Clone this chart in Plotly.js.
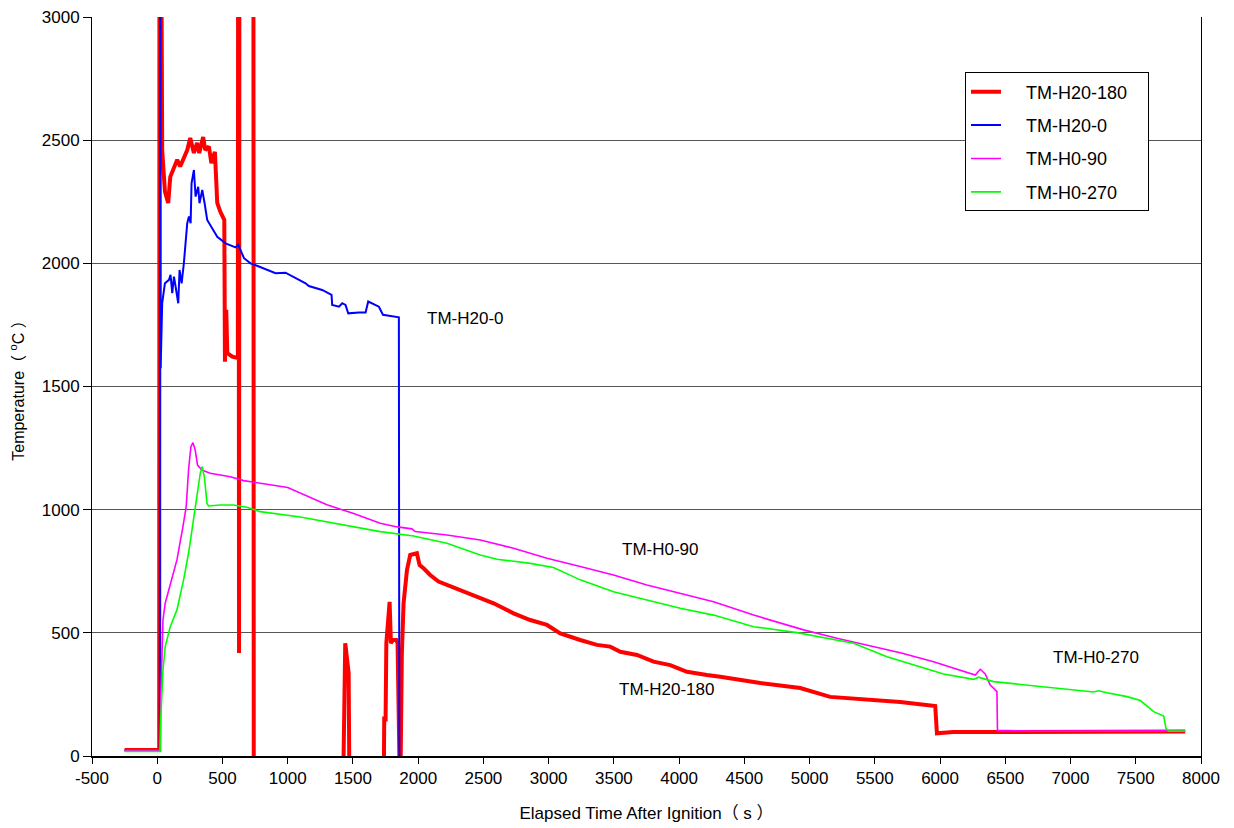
<!DOCTYPE html>
<html>
<head>
<meta charset="utf-8">
<script src="https://cdn.plot.ly/plotly-3.0.1.min.js"></script>
<style>html,body{margin:0;padding:0;background:#fff;}#chart{width:1234px;height:828px;}</style>
</head>
<body>
<div id="chart"></div>
<script>
// Values (off-scale readings kept as out-of-range values)
const seriesNames = ["TM-H20-180", "TM-H20-0", "TM-H0-90", "TM-H0-270"];

const redX = [-250, 15, 18, 38, 59, 84, 100, 128, 153, 176, 204, 230, 253, 281, 306, 322, 352, 368, 396, 415, 442, 460, 483, 514, 519, 529, 537, 575, 618, 622, 627, 631, 736, 740, 1423, 1441, 1467, 1474, 1735, 1740, 1750, 1756, 1781, 1791, 1806, 1832, 1842, 1855, 1862, 1875, 1888, 1914, 1939, 1990, 2011, 2041, 2092, 2156, 2220, 2322, 2476, 2578, 2731, 2859, 2987, 3089, 3242, 3370, 3472, 3549, 3677, 3804, 3932, 4060, 4213, 4315, 4622, 4928, 5158, 5388, 5695, 5963, 5976, 6100, 6500, 7000, 7500, 7879];
const redY = [24, 24, 5000, 2460, 2291, 2245, 2351, 2393, 2420, 2393, 2433, 2460, 2509, 2448, 2489, 2448, 2513, 2460, 2474, 2407, 2453, 2245, 2210, 2176, 1601, 1811, 1636, 1621, 1616, 5000, 418, 5000, 5000, -200, -200, 458, 337, -200, -200, 160, 140, 458, 626, 458, 471, 471, 458, -200, -200, 418, 620, 755, 816, 823, 775, 762, 735, 708, 694, 674, 640, 620, 579, 552, 532, 498, 471, 451, 444, 423, 410, 383, 369, 342, 329, 322, 296, 276, 240, 231, 219, 203, 92, 97, 98, 99, 99, 99];

const blueX = [-250, 20, 23, 26, 38, 59, 90, 102, 115, 128, 141, 161, 171, 187, 204, 230, 243, 256, 263, 281, 294, 314, 324, 345, 363, 383, 460, 524, 600, 621, 665, 715, 779, 907, 983, 1137, 1162, 1264, 1336, 1341, 1393, 1418, 1443, 1464, 1546, 1597, 1617, 1648, 1699, 1730, 1801, 1847, 1852, 1856];
const blueY = [24, 24, 5000, 1574, 1839, 1919, 1933, 1953, 1879, 1946, 1905, 1838, 1973, 1919, 2000, 2163, 2190, 2163, 2325, 2379, 2271, 2311, 2244, 2298, 2244, 2176, 2108, 2081, 2065, 2075, 2021, 2000, 1987, 1960, 1962, 1919, 1908, 1892, 1872, 1831, 1824, 1838, 1831, 1797, 1800, 1800, 1845, 1838, 1824, 1791, 1784, 1781, 1781, -200];

const magX = [-250, 20, 25, 44, 61, 100, 151, 197, 222, 240, 258, 274, 291, 309, 342, 406, 483, 560, 662, 789, 1000, 1300, 1500, 1709, 1840, 1952, 1977, 2220, 2476, 2731, 2987, 3242, 3497, 3753, 4009, 4264, 4571, 4954, 5209, 5593, 5695, 5950, 6244, 6270, 6308, 6346, 6385, 6436, 6440, 6700, 7000, 7500, 7879];
const magY = [24, 24, 200, 552, 620, 701, 796, 931, 1012, 1161, 1256, 1272, 1242, 1181, 1161, 1148, 1141, 1134, 1118, 1107, 1090, 1020, 985, 945, 930, 922, 911, 897, 877, 843, 803, 769, 735, 694, 661, 626, 572, 512, 478, 430, 419, 383, 336, 329, 352, 333, 288, 261, 104, 101, 101, 102, 102];

const greenX = [-250, 22, 27, 44, 61, 100, 151, 202, 240, 279, 304, 330, 345, 363, 381, 393, 483, 585, 687, 789, 1096, 1500, 1709, 1965, 2220, 2476, 2604, 2859, 3037, 3242, 3497, 3753, 4009, 4264, 4571, 4903, 5158, 5337, 5593, 5695, 5976, 6027, 6257, 6295, 6410, 6717, 6972, 7177, 7215, 7279, 7433, 7535, 7637, 7714, 7732, 7752, 7879];
const greenY = [18, 18, 150, 349, 444, 525, 593, 715, 823, 958, 1053, 1148, 1175, 1127, 1026, 1015, 1019, 1019, 1010, 992, 970, 930, 911, 893, 864, 816, 799, 782, 765, 715, 667, 633, 600, 572, 525, 501, 474, 458, 403, 387, 342, 333, 311, 320, 302, 284, 271, 260, 265, 257, 241, 225, 180, 162, 112, 101, 101];

const xTickVals = [-500, 0, 500, 1000, 1500, 2000, 2500, 3000, 3500, 4000, 4500, 5000, 5500, 6000, 6500, 7000, 7500, 8000];
const xTickText = ["-500", "0", "500", "1000", "1500", "2000", "2500", "3000", "3500", "4000", "4500", "5000", "5500", "6000", "6500", "7000", "7500", "8000"];

const labelTexts = ["TM-H20-0", "TM-H0-90", "TM-H20-180", "TM-H0-270"];
const labelX = [2360, 3854, 3900, 7196];
const labelY = [1778, 840, 272, 398];

const FONT = "Liberation Sans, Arial, Noto Sans CJK JP, sans-serif";
const colors = ["#FF0000", "#0000FF", "#FF00FF", "#00FF00"];
const widths = [4, 2, 1.6, 1.6];
const xs = [redX, blueX, magX, greenX];
const ys = [redY, blueY, magY, greenY];
const lead = "\u00a0\u00a0\u00a0\u00a0";
const trail = "\u00a0\u00a0\u00a0";

const traces = seriesNames.map((n, i) => ({
  x: xs[i], y: ys[i], name: lead + n + trail, type: "scatter", mode: "lines",
  legendgroup: "g" + i,
  line: {color: colors[i], width: widths[i]}
}));

const layout = {
  width: 1234, height: 828,
  margin: {l: 92, r: 33, t: 17, b: 72},
  paper_bgcolor: "#fff", plot_bgcolor: "#fff",
  font: {family: FONT, size: 17, color: "#000"},
  showlegend: true,
  legend: {
    x: (965 - 92) / 1109, y: 0.925, xanchor: "left", yanchor: "top",
    bordercolor: "#000", borderwidth: 1, bgcolor: "#fff",
    font: {family: FONT, size: 18, color: "#000"},
    tracegroupgap: 7
  },
  xaxis: {
    range: [-500, 8000], tickmode: "array", tickvals: xTickVals, ticktext: xTickText,
    showgrid: false, zeroline: false, showline: true, linecolor: "#000", linewidth: 2,
    ticks: "outside", ticklen: 6, tickcolor: "#000", mirror: false,
    tickfont: {family: FONT, size: 17, color: "#000"},
    title: {text: "Elapsed Time After Ignition（ s ）", font: {family: FONT, size: 17, color: "#000"}, standoff: 20}
  },
  yaxis: {
    range: [0, 3000], dtick: 500,
    showgrid: true, gridcolor: "#555", gridwidth: 1, zeroline: false,
    showline: true, linecolor: "#000", linewidth: 1, mirror: true,
    ticks: "outside", ticklen: 8, tickcolor: "#000",
    tickfont: {family: FONT, size: 17, color: "#000"},
    title: {text: "Temperature（ <sup>o</sup>C ）", font: {family: FONT, size: 16, color: "#000"}, standoff: 13}
  },
  annotations: labelTexts.map((t, i) => ({
    x: labelX[i], y: labelY[i], xref: "x", yref: "y", text: t, showarrow: false,
    font: {family: FONT, size: 17, color: "#000"}
  }))
};

Plotly.newPlot("chart", traces, layout, {displayModeBar: false, staticPlot: true});
</script>
</body>
</html>
